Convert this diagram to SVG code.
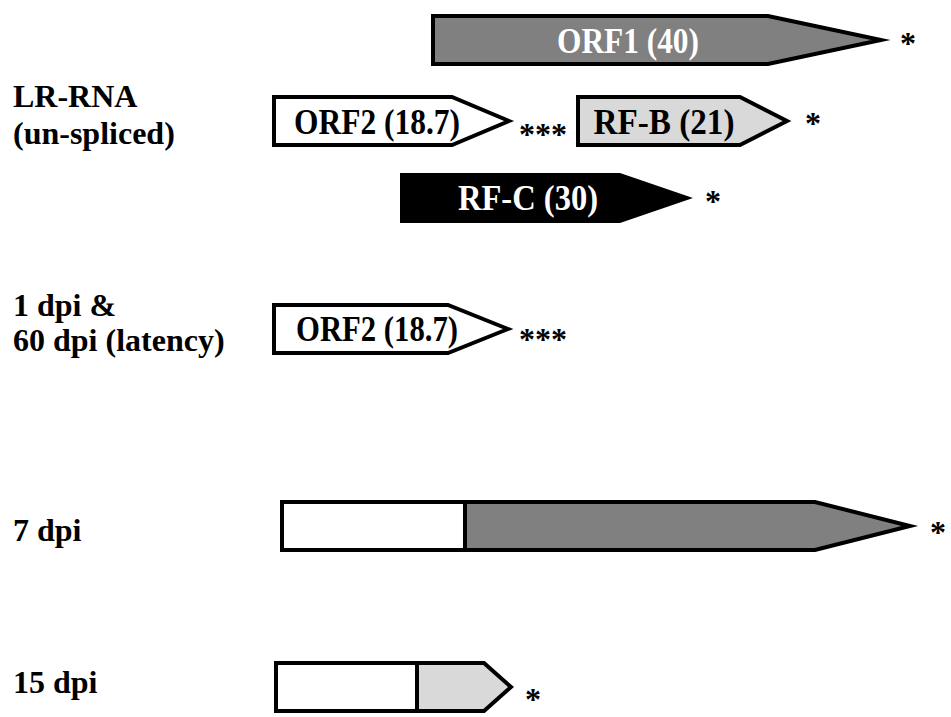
<svg xmlns="http://www.w3.org/2000/svg" width="951" height="717" viewBox="0 0 951 717">
<style>
  text { font-family: "Liberation Serif", "Times New Roman", serif; font-weight: bold; }
  .lbl { font-size: 32px; fill: #000; }
  .box { font-size: 35px; text-anchor: middle; }
  .star { font-size: 32px; text-anchor: middle; fill: #000; }
  .shape { stroke: #000; stroke-width: 4; stroke-linejoin: miter; stroke-miterlimit: 10; }
</style>
<rect width="951" height="717" fill="#fff"/>

<g id="labels">
  <text class="lbl" x="13" y="107">LR-RNA</text>
  <text class="lbl" x="13" y="144">(un-spliced)</text>
  <text class="lbl" x="13" y="316">1 dpi &amp;</text>
  <text class="lbl" x="13" y="351">60 dpi (latency)</text>
  <text class="lbl" x="13" y="541">7 dpi</text>
  <text class="lbl" x="13" y="693">15 dpi</text>
</g>

<g id="orf1">
  <polygon class="shape" fill="#808080" points="433,16 768,16 881,40 768,64 433,64"/>
  <text class="box" x="628" y="53" fill="#fff" textLength="142" lengthAdjust="spacingAndGlyphs">ORF1 (40)</text>
  <text class="star" x="908" y="54">*</text>
</g>

<g id="orf2-a">
  <polygon class="shape" fill="#fff" points="274,97 452,97 509,121 452,145 274,145"/>
  <text class="box" x="377" y="134" fill="#000" textLength="166" lengthAdjust="spacingAndGlyphs">ORF2 (18.7)</text>
  <text class="star" x="543" y="145">***</text>
</g>

<g id="rfb">
  <polygon class="shape" fill="#d9d9d9" points="578,97 740,97 787,121 740,145 578,145"/>
  <text class="box" x="664" y="134" fill="#000" textLength="141" lengthAdjust="spacingAndGlyphs">RF-B (21)</text>
  <text class="star" x="813" y="134">*</text>
</g>

<g id="rfc">
  <polygon fill="#000" points="400,173 620,173 693,198 620,223 400,223"/>
  <text class="box" x="528" y="210" fill="#fff" textLength="140" lengthAdjust="spacingAndGlyphs">RF-C (30)</text>
  <text class="star" x="713" y="212">*</text>
</g>

<g id="orf2-b">
  <polygon class="shape" fill="#fff" points="274,305 448,305 508,329 448,353 274,353"/>
  <text class="box" x="377" y="341" fill="#000" textLength="162" lengthAdjust="spacingAndGlyphs">ORF2 (18.7)</text>
  <text class="star" x="543" y="350">***</text>
</g>

<g id="dpi7">
  <rect class="shape" fill="#fff" x="282" y="502" width="183" height="48"/>
  <polygon class="shape" fill="#808080" points="465,502 815,502 910,526 815,550 465,550"/>
  <text class="star" x="938" y="543">*</text>
</g>

<g id="dpi15">
  <rect class="shape" fill="#fff" x="276" y="663" width="141" height="48"/>
  <polygon class="shape" fill="#d9d9d9" points="417,663 484,663 511,687 484,711 417,711"/>
  <text class="star" x="533" y="710">*</text>
</g>

<g id="connectors"></g>
</svg>
